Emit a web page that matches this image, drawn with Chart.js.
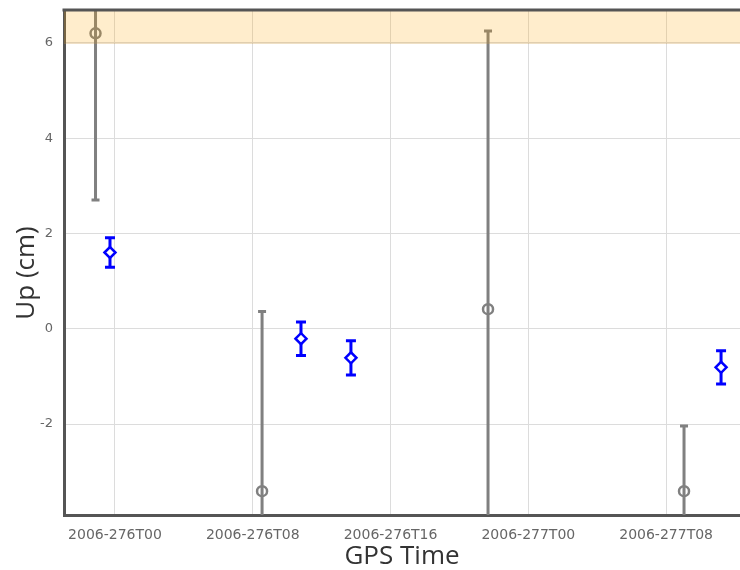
<!DOCTYPE html>
<html>
<head>
<meta charset="utf-8">
<script src="https://cdn.jsdelivr.net/npm/chart.js@4/dist/chart.umd.min.js"></script>
<style>
  html, body { margin: 0; padding: 0; background: #fff; }
  #wrap { width: 740px; height: 570px; }
</style>
</head>
<body>
<div id="wrap"><canvas id="upChart"></canvas></div>
<script>
// hours relative to 2006-276T00
const grayHours = [-1.13, 8.54, 21.66, 33.04];
const grayUp = [6.2, -3.41, 0.41, -3.41];
const grayErr = [3.5, 3.77, 5.84, 1.37];

const blueHours = [-0.29, 10.8, 13.7, 35.19];
const blueUp = [1.6, -0.21, -0.61, -0.81];
const blueErr = [0.31, 0.35, 0.36, 0.35];

const xTickHours = [0, 8, 16, 24, 32];
const xTickLabels = ['2006-276T00', '2006-276T08', '2006-276T16', '2006-277T00', '2006-277T08'];
const yTicks = [-2, 0, 2, 4, 6];

const toPoints = (xs, ys) => xs.map((x, i) => ({ x: x, y: ys[i] }));

// no extra room around the plot, the frame sits at fixed pixels
const noPad = s => {
    s.paddingTop = 0;
    s.paddingBottom = 0;
    s.paddingLeft = 0;
    s.paddingRight = 0;
};

// vertical error bars, drawn under the markers
const errorBars = {
    id: 'errorBars',
    beforeDatasetsDraw(chart) {
        const { ctx, chartArea, scales } = chart;
        ctx.save();
        ctx.beginPath();
        ctx.rect(chartArea.left, chartArea.top, chartArea.right - chartArea.left, chartArea.bottom - chartArea.top);
        ctx.clip();
        chart.data.datasets.forEach(ds => {
            ctx.strokeStyle = ds.borderColor;
            ctx.lineWidth = 3;
            ds.data.forEach((p, i) => {
                const e = ds.errors[i];
                const px = scales.x.getPixelForValue(p.x);
                const top = scales.y.getPixelForValue(p.y + e);
                const bot = scales.y.getPixelForValue(p.y - e);
                const cap = ds.capHalf;
                ctx.beginPath();
                ctx.moveTo(px, top);
                ctx.lineTo(px, bot);
                ctx.moveTo(px - cap, top);
                ctx.lineTo(px + cap, top);
                ctx.moveTo(px - cap, bot);
                ctx.lineTo(px + cap, bot);
                ctx.stroke();
            });
        });
        ctx.restore();
    }
};

// shaded band above 6 cm, top frame line and the y title
const band = {
    id: 'band',
    afterDatasetsDraw(chart) {
        const { ctx, chartArea, scales } = chart;
        const y6 = scales.y.getPixelForValue(6);
        ctx.save();
        ctx.fillStyle = 'rgba(255, 165, 0, 0.2)';
        ctx.fillRect(chartArea.left, chartArea.top, chartArea.right - chartArea.left, y6 - chartArea.top);
        ctx.strokeStyle = 'rgba(200, 150, 60, 0.35)';
        ctx.lineWidth = 1;
        ctx.beginPath();
        ctx.moveTo(chartArea.left, y6 + 0.5);
        ctx.lineTo(chartArea.right, y6 + 0.5);
        ctx.stroke();
        ctx.strokeStyle = '#555';
        ctx.lineWidth = 3;
        ctx.beginPath();
        ctx.moveTo(chartArea.left - 1.5, chartArea.top);
        ctx.lineTo(chartArea.right, chartArea.top);
        ctx.stroke();

        ctx.translate(27, 273);
        ctx.rotate(-Math.PI / 2);
        ctx.fillStyle = '#333';
        ctx.font = '26px "Open Sans"';
        ctx.textAlign = 'center';
        ctx.textBaseline = 'middle';
        ctx.fillText('Up (cm)', 0, 0);
        ctx.restore();
    }
};

new Chart(document.getElementById('upChart'), {
    type: 'scatter',
    data: {
        datasets: [
            {
                data: toPoints(grayHours, grayUp),
                errors: grayErr,
                capHalf: 4,
                borderColor: '#808080',
                backgroundColor: 'rgba(255,255,255,0)',
                pointStyle: 'circle',
                pointRadius: 5,
                pointBorderWidth: 2.5
            },
            {
                data: toPoints(blueHours, blueUp),
                errors: blueErr,
                capHalf: 5,
                borderColor: '#0000ff',
                backgroundColor: '#ffffff',
                pointStyle: 'rectRot',
                pointRadius: 5.5,
                pointBorderWidth: 2.5
            }
        ]
    },
    options: {
        responsive: true,
        maintainAspectRatio: false,
        animation: false,
        layout: { autoPadding: false, padding: { top: 10, right: 0, left: 0, bottom: 0 } },
        plugins: { legend: { display: false }, tooltip: { enabled: false } },
        scales: {
            x: {
                type: 'linear',
                min: -2.96,
                max: 36.29,
                afterBuildTicks: s => { s.ticks = xTickHours.map(v => ({ value: v })); },
                afterFit: s => { s.height = 55; noPad(s); },
                ticks: {
                    callback: (v) => xTickLabels[xTickHours.indexOf(v)],
                    color: '#666',
                    font: { family: 'DejaVu Sans', size: 14 },
                    maxRotation: 0,
                    padding: 12
                },
                grid: { color: '#dcdcdc', drawTicks: false },
                border: { color: '#555', width: 3 },
                title: {
                    display: true,
                    text: 'GPS Time',
                    color: '#333',
                    font: { family: 'Open Sans', size: 26, lineHeight: 1 },
                    padding: { top: 0, bottom: 0 }
                }
            },
            y: {
                min: -3.91,
                max: 6.69,
                afterBuildTicks: s => { s.ticks = yTicks.map(v => ({ value: v })); },
                afterFit: s => { s.width = 64; noPad(s); },
                ticks: {
                    color: '#666',
                    font: { family: 'DejaVu Sans', size: 13 },
                    padding: 11
                },
                grid: { color: '#dcdcdc', drawTicks: false },
                border: { color: '#555', width: 3 }
            }
        }
    },
    plugins: [errorBars, band]
});
</script>
</body>
</html>
